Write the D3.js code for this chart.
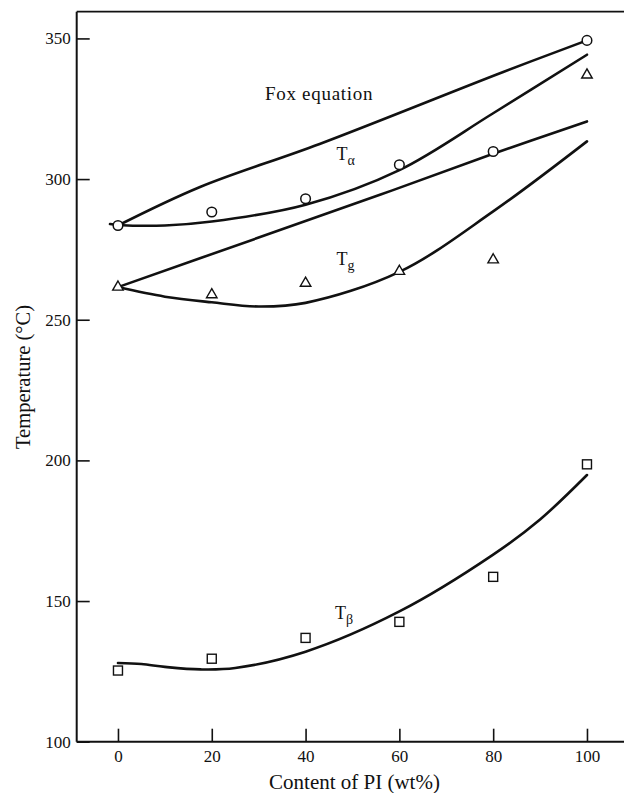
<!DOCTYPE html>
<html>
<head>
<meta charset="utf-8">
<script src="https://cdn.jsdelivr.net/npm/d3@7"></script>
<style>
  html, body { margin: 0; padding: 0; background: #fff; }
  svg { display: block; }
  text { font-family: "Liberation Serif", "DejaVu Serif", serif; fill: #111; }
</style>
</head>
<body>
<svg id="chart" width="624" height="793"></svg>
<script>
// ---- Data ----
const contents = [0, 20, 40, 60, 80, 100];          // Content of PI (wt%)
const tAlpha   = [283.5, 288.3, 293.0, 305.1, 309.8, 349.3];   // circles
const tG       = [261.6, 258.9, 263.0, 267.2, 271.3, 337.0];   // triangles
const tBeta    = [125.3, 129.5, 136.9, 142.6, 158.6, 198.6];   // squares

// fitted curves (x, temperature)
const foxUpperCurve = [[0,283.5],[17.5,297.2],[43,312.5],[82,338.0],[100,349.3]];
const foxLowerCurve = [[0,261.6],[30,279.2],[56,294.5],[80,309.0],[100,320.5]];
const tAlphaCurve   = [[-1.7,284.0],[0,283.7],[10,283.5],[20,284.9],[40,290.9],[60,303.2],[80,323.4],[100,344.2]];
const tGCurve       = [[0,261.6],[10,258.2],[20,256.2],[30,254.7],[40,256.0],[60,267.0],[80,288.5],[100,313.4]];
const tBetaCurve    = [[0,128.0],[5,127.6],[10,126.6],[17.6,125.7],[25,126.2],[40,132.0],[60,146.3],[80,166.5],[90,179.0],[100,194.8]];

const xTicks = [0, 20, 40, 60, 80, 100];
const yTicks = [100, 150, 200, 250, 300, 350];

// ---- Layout ----
const svg = d3.select("#chart");
const mLeft = 76.7, mTop = 11.7, mBottom = 741.7;
const x = d3.scaleLinear().domain([-8.8, 110]).range([mLeft, mLeft + 118.8 * 4.69]);
const y = d3.scaleLinear().domain([100, 359.5]).range([mBottom, mTop]);

// frame top line (right side is outside the picture)
svg.append("line").attr("x1", mLeft).attr("x2", 624).attr("y1", mTop).attr("y2", mTop)
  .attr("stroke", "#111").attr("stroke-width", 1.8);

// axes
const xAxis = d3.axisBottom(x).tickValues(xTicks).tickSizeInner(-13).tickSizeOuter(0).tickPadding(8);
const yAxis = d3.axisLeft(y).tickValues(yTicks).tickSizeInner(-13).tickSizeOuter(0).tickPadding(6);

const gx = svg.append("g").attr("transform", `translate(0,${mBottom})`).call(xAxis);
const gy = svg.append("g").attr("transform", `translate(${mLeft},0)`).call(yAxis);
[gx, gy].forEach(g => {
  g.select(".domain").attr("stroke", "#111").attr("stroke-width", 2);
  g.selectAll(".tick line").attr("stroke", "#111").attr("stroke-width", 1.6);
  g.selectAll(".tick text").style("font-family", '"Liberation Serif", serif').style("font-size", "17px").attr("fill", "#111");
});
gx.select(".domain").attr("d", `M${mLeft},0H${640}`);
gy.select(".domain").attr("d", `M0,${mTop}V${mBottom}`);

// axis titles
svg.append("text").attr("x", 354.5).attr("y", 789).attr("text-anchor", "middle")
  .style("font-size", "21px").text("Content of PI (wt%)");
svg.append("text").attr("transform", "translate(30,377) rotate(-90)").attr("text-anchor", "middle")
  .style("font-size", "20.5px").text("Temperature (°C)");

// curves
const line = d3.line().x(d => x(d[0])).y(d => y(d[1])).curve(d3.curveCatmullRom.alpha(0.5));
[foxUpperCurve, foxLowerCurve, tAlphaCurve, tGCurve, tBetaCurve].forEach(c => {
  svg.append("path").attr("d", line(c)).attr("fill", "none")
    .attr("stroke", "#111").attr("stroke-width", 2.6).attr("stroke-linecap", "round");
});

// markers
const mk = svg.append("g");
mk.selectAll("circle").data(contents.map((c, i) => [c, tAlpha[i]])).join("circle")
  .attr("cx", d => x(d[0])).attr("cy", d => y(d[1])).attr("r", 4.8)
  .attr("fill", "#fff").attr("stroke", "#111").attr("stroke-width", 1.5);

const tri = d3.symbol().type(d3.symbolTriangle).size(48);
mk.selectAll("path.tri").data(contents.map((c, i) => [c, tG[i]])).join("path").attr("class", "tri")
  .attr("transform", d => `translate(${x(d[0])},${y(d[1])})`).attr("d", tri())
  .attr("fill", "#fff").attr("stroke", "#111").attr("stroke-width", 1.4);

mk.selectAll("rect").data(contents.map((c, i) => [c, tBeta[i]])).join("rect")
  .attr("x", d => x(d[0]) - 4.5).attr("y", d => y(d[1]) - 4.5).attr("width", 9).attr("height", 9)
  .attr("fill", "#fff").attr("stroke", "#111").attr("stroke-width", 1.4);

// annotations
svg.append("text").attr("x", 265).attr("y", 100).style("font-size", "19px")
  .style("letter-spacing", "0.7px").text("Fox equation");

function sublabel(px, py, sub) {
  const t = svg.append("text").attr("x", px).attr("y", py).style("font-size", "18px");
  t.append("tspan").text("T");
  t.append("tspan").attr("dy", 5).style("font-size", "14px").text(sub);
}
sublabel(336.5, 160, "α");
sublabel(336.5, 265, "g");
sublabel(335, 618.5, "β");
</script>
</body>
</html>
